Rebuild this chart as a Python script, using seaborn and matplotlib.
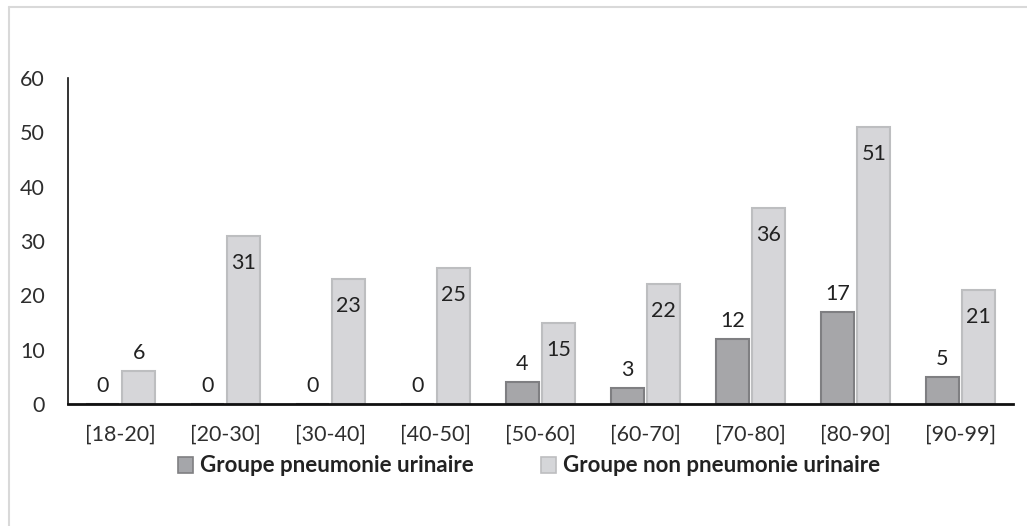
import pandas as pd
import matplotlib.pyplot as plt
import seaborn as sns
from matplotlib.lines import Line2D
from matplotlib.patches import Patch

categories = ['[18-20]', '[20-30]', '[30-40]', '[40-50]', '[50-60]',
              '[60-70]', '[70-80]', '[80-90]', '[90-99]']
pneumonie = [0, 0, 0, 0, 4, 3, 12, 17, 5]
non_pneumonie = [6, 31, 23, 25, 15, 22, 36, 51, 21]
groups = ['Groupe pneumonie urinaire', 'Groupe non pneumonie urinaire']

data = pd.DataFrame({
    'age': categories * 2,
    'count': pneumonie + non_pneumonie,
    'groupe': [groups[0]] * len(categories) + [groups[1]] * len(categories),
})

sns.set_style('white')
plt.rcParams['font.family'] = ['Lato', 'DejaVu Sans']

fig = plt.figure(figsize=(10.27, 5.26), dpi=100)
ax = fig.add_axes([68 / 1027, 1 - 404 / 526, 945 / 1027, 326 / 526])

face = {groups[0]: '#a5a6aa', groups[1]: '#d5d6d9'}
edge = {groups[0]: '#7f7f82', groups[1]: '#bdbec0'}

sns.barplot(data=data, x='age', y='count', hue='groupe', order=categories,
            hue_order=groups, palette=face, width=0.695, gap=0.1,
            ax=ax, legend=False)

for container, g in zip(ax.containers, groups):
    for bar in container:
        bar.set_edgecolor(edge[g])
        bar.set_linewidth(1.5)

# data labels
for container, g in zip(ax.containers, groups):
    for bar in container:
        h = bar.get_height()
        xc = bar.get_x() + bar.get_width() / 2
        if g == groups[0] or h < 10:
            off = 18
        else:
            off = -27
        ax.annotate(f'{int(h)}', (xc, h), xytext=(0, off),
                    textcoords='offset pixels', ha='center', va='center',
                    fontsize=15.5, color='#222222')

ax.set_ylim(0, 60)
ax.set_xlim(-0.5, len(categories) - 0.5)
ax.set_yticks(range(0, 61, 10))
ax.set_xlabel('')
ax.set_ylabel('')
ax.tick_params(axis='both', length=0, labelsize=15.5, colors='#2e2e2e')
ax.tick_params(axis='x', pad=15)
ax.tick_params(axis='y', pad=16.5)
for s in ['top', 'right']:
    ax.spines[s].set_visible(False)
ax.spines['left'].set_color('#111111')
ax.spines['left'].set_linewidth(1.2)
ax.spines['bottom'].set_color('#111111')
ax.spines['bottom'].set_linewidth(2)

handles = [Patch(facecolor=face[g], edgecolor=edge[g], linewidth=1.2) for g in groups]
leg = fig.legend(handles, groups, loc='center', bbox_to_anchor=(0.515, 1 - 466 / 526),
                 ncol=2, frameon=False, handlelength=0.7, handleheight=0.7,
                 handletextpad=0.3, columnspacing=3.0,
                 prop={'weight': 'bold', 'size': 16})
for t in leg.get_texts():
    t.set_color('#222222')

# chart frame
fig.add_artist(Line2D([8.5 / 1027, 8.5 / 1027], [0, 1 - 6.5 / 526], color='#d9d9d9', lw=1.5))
fig.add_artist(Line2D([8.5 / 1027, 1], [1 - 6.5 / 526, 1 - 6.5 / 526], color='#d9d9d9', lw=1.5))

fig.savefig('out.png', dpi=100)
